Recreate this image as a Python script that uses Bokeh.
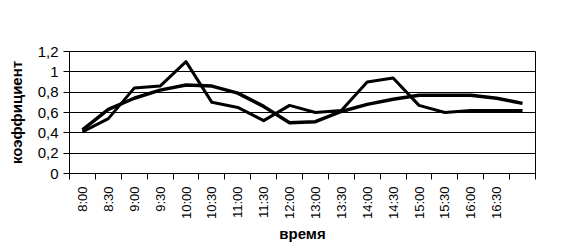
import math
from bokeh.plotting import figure
from bokeh.models import Range1d, FixedTicker, BoxAnnotation
from bokeh.embed import file_html
from bokeh.resources import INLINE

# ---- data ----
times = ["8:00", "8:30", "9:00", "9:30", "10:00", "10:30", "11:00", "11:30",
         "12:00", "13:00", "13:30", "14:00", "14:30", "15:00", "15:30",
         "16:00", "16:30", ""]
series_a = [0.41, 0.54, 0.84, 0.86, 1.10, 0.70, 0.65, 0.52, 0.67, 0.60,
            0.62, 0.90, 0.94, 0.67, 0.60, 0.62, 0.62, 0.62]
series_b = [0.43, 0.63, 0.74, 0.82, 0.87, 0.86, 0.79, 0.66, 0.50, 0.51,
            0.61, 0.68, 0.73, 0.77, 0.77, 0.77, 0.74, 0.69]
y_ticks = [0, 0.2, 0.4, 0.6, 0.8, 1.0, 1.2]
y_tick_labels = ["0", "0,2", "0,4", "0,6", "0,8", "1", "1,2"]
x_title = "время"
y_title = "коэффициент"

n = len(times)
xc = [i + 0.5 for i in range(n)]
bounds = list(range(n + 1))

FONT = "Liberation Sans"

p = figure(width=562, height=250, output_backend="svg", toolbar_location=None,
           x_range=Range1d(0, n), y_range=Range1d(0, 1.2),
           min_border_left=69, min_border_right=27,
           min_border_top=51, min_border_bottom=77)
p.background_fill_color = "white"
p.border_fill_color = "white"
p.outline_line_color = "black"
p.outline_line_width = 1

# x axis
xa = p.xaxis[0]
xa.ticker = FixedTicker(ticks=xc, minor_ticks=bounds)
xa.major_label_overrides = {x: t for x, t in zip(xc, times)}
xa.major_tick_out = 0
xa.major_tick_in = 0
xa.minor_tick_out = 6
xa.minor_tick_in = 0
xa.minor_tick_line_color = "black"
xa.axis_line_color = "black"
xa.major_label_orientation = math.pi / 2
xa.major_label_text_font = FONT
xa.major_label_text_font_size = "13px"
xa.major_label_text_color = "black"
xa.major_label_standoff = 7
xa.axis_label = x_title
xa.axis_label_text_font = FONT
xa.axis_label_text_font_style = "bold"
xa.axis_label_text_font_size = "15px"
xa.axis_label_text_color = "black"
xa.axis_label_standoff = 3

# y axis
ya = p.yaxis[0]
ya.ticker = FixedTicker(ticks=y_ticks, minor_ticks=[])
ya.major_label_overrides = {v: t for v, t in zip(y_ticks, y_tick_labels)}
ya.major_tick_out = 6
ya.major_tick_in = 0
ya.major_tick_line_color = "black"
ya.axis_line_color = "black"
ya.major_label_text_font = FONT
ya.major_label_text_font_size = "15px"
ya.major_label_text_color = "black"
ya.major_label_standoff = 5
ya.axis_label = y_title
ya.axis_label_text_font = FONT
ya.axis_label_text_font_style = "bold"
ya.axis_label_text_font_size = "15px"
ya.axis_label_text_color = "black"
ya.axis_label_standoff = 10

p.xgrid.visible = False
p.ygrid.ticker = FixedTicker(ticks=y_ticks, minor_ticks=[])
p.ygrid.grid_line_color = "black"
p.ygrid.grid_line_width = 1
p.ygrid.grid_line_alpha = 1

p.line(xc, series_b, line_color="black", line_width=3.5, line_join="round")
p.line(xc, series_a, line_color="black", line_width=3, line_join="round")

# outer chart border
p.add_layout(BoxAnnotation(left=3.5, right=557.5, top=3.5, bottom=245.5,
                           left_units="canvas", right_units="canvas",
                           top_units="canvas", bottom_units="canvas",
                           level="overlay",
                           fill_alpha=0, line_color="black", line_width=1,
                           line_alpha=1))

open("out.html", "w").write(file_html(p, INLINE))
